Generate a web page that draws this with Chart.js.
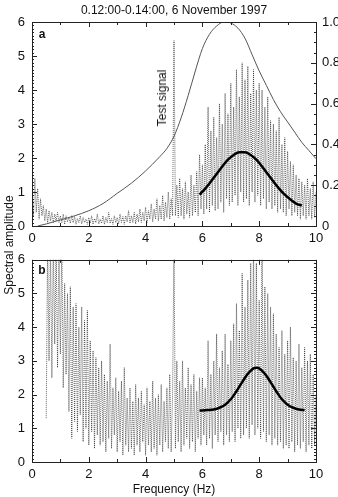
<!DOCTYPE html>
<html>
<head>
<meta charset="utf-8">
<script src="https://cdn.jsdelivr.net/npm/chart.js@4.4.1/dist/chart.umd.min.js"></script>
<style>
  body { margin: 0; background: #fff; font-family: "Liberation Sans", Arial, sans-serif; }
  #wrap { position: relative; width: 338px; height: 497px; overflow: hidden; }
  canvas { position: absolute; left: 0; }
  .txt { position: absolute; color: #111; font-size: 12px; white-space: nowrap; transform: translate(-50%, -50%); }
  .rot { transform: translate(-50%, -50%) rotate(-90deg); }
</style>
</head>
<body>
<div id="wrap">
  <canvas id="chartA" width="338" height="245" style="top:0"></canvas>
  <canvas id="chartB" width="338" height="252" style="top:245px"></canvas>
  <div class="txt" style="left:174px; top:10px">0.12:00-0.14:00, 6 November 1997</div>
  <div class="txt" style="left:42px; top:34px; font-weight:bold">a</div>
  <div class="txt" style="left:42px; top:270px; font-weight:bold">b</div>
  <div class="txt rot" style="left:162px; top:98px">Test signal</div>
  <div class="txt rot" style="left:9px; top:245px">Spectral amplitude</div>
  <div class="txt" style="left:174px; top:489px">Frequency (Hz)</div>
</div>
<script>
// spectra sampled every 0.05 Hz from 0 to 10 Hz
const noiseStep = 0.05;
const noiseA = [
  0.9, 0.3, 1.4, 0.4, 1.1, 0.2, 0.8, 0.3, 0.6, 0.15,
  0.5, 0.1, 0.45, 0.15, 0.4, 0.1, 0.35, 0.15, 0.4, 0.1,
  0.3, 0.1, 0.35, 0.05, 0.3, 0.12, 0.25, 0.08, 0.3, 0.1,
  0.28, 0.05, 0.22, 0.1, 0.3, 0.06, 0.25, 0.1, 0.2, 0.05,
  0.25, 0.08, 0.3, 0.05, 0.22, 0.1, 0.35, 0.06, 0.2, 0.08,
  0.3, 0.05, 0.25, 0.1, 0.4, 0.08, 0.22, 0.05, 0.3, 0.1,
  0.25, 0.06, 0.35, 0.1, 0.28, 0.05, 0.3, 0.12, 0.45, 0.08,
  0.3, 0.1, 0.4, 0.06, 0.35, 0.12, 0.5, 0.1, 0.4, 0.15,
  0.55, 0.1, 0.45, 0.2, 0.65, 0.12, 0.5, 0.2, 0.8, 0.15,
  0.6, 0.2, 0.9, 0.15, 0.7, 0.25, 1.0, 0.2, 0.8, 0.3,
  5.45, 0.3, 1.2, 0.25, 1.4, 0.3, 1.1, 0.2, 1.3, 0.35,
  1.0, 0.25, 1.5, 0.3, 1.2, 0.4, 1.6, 0.3, 2.1, 0.5,
  1.8, 0.35, 2.4, 0.5, 3.5, 0.4, 2.8, 0.6, 3.2, 0.45,
  2.6, 0.5, 3.6, 0.7, 3.0, 0.4, 3.9, 0.8, 3.3, 0.6,
  4.2, 0.7, 3.5, 0.9, 4.6, 0.6, 3.8, 1.0, 4.8, 0.7,
  4.3, 0.8, 4.7, 0.6, 3.9, 1.0, 4.6, 0.7, 4.0, 0.9,
  4.2, 0.6, 4.0, 0.8, 3.5, 0.5, 3.8, 0.7, 3.1, 0.5,
  3.0, 0.6, 2.8, 0.4, 3.2, 0.5, 2.4, 0.4, 2.6, 0.3,
  2.2, 0.5, 1.9, 0.3, 1.8, 0.4, 1.5, 0.3, 1.4, 0.2,
  1.3, 0.3, 1.2, 0.2, 1.4, 0.3, 1.1, 0.2, 1.3, 0.25,
  1.0
];
const noiseB = [
  null, null, null, null, null, null, null, null, null, null,
  1.3, 6.5, 3.0, 6.5, 2.5, 6.5, 3.5, 6.5, 2.8, 6.5,
  3.2, 6.5, 2.2, 5.3, 2.6, 5.0, 1.5, 5.2, 0.7, 4.6,
  1.2, 4.7, 0.9, 4.0, 1.4, 4.6, 0.6, 4.2, 1.0, 4.5,
  0.5, 3.6, 0.9, 3.3, 0.4, 3.1, 0.8, 2.8, 0.5, 3.0,
  0.6, 2.6, 0.3, 2.4, 0.7, 3.5, 0.4, 2.2, 0.8, 2.5,
  0.3, 2.1, 0.6, 2.4, 0.2, 2.8, 0.5, 1.9, 0.3, 2.2,
  0.4, 1.8, 0.2, 2.3, 0.5, 1.9, 0.3, 2.1, 0.6, 1.7,
  0.2, 2.2, 0.5, 1.8, 0.3, 2.4, 0.4, 1.9, 0.2, 2.0,
  0.5, 2.3, 0.3, 1.8, 0.6, 2.2, 0.4, 2.6, 0.3, 2.0,
  6.5, 0.4, 3.0, 0.6, 2.4, 0.3, 3.0, 0.5, 2.2, 0.7,
  2.8, 0.4, 2.3, 0.6, 2.6, 0.3, 2.1, 0.7, 2.5, 0.5,
  2.5, 0.8, 2.2, 0.5, 3.6, 0.7, 2.6, 0.4, 3.0, 0.8,
  3.8, 0.6, 2.8, 0.9, 3.3, 0.5, 3.8, 0.8, 2.9, 0.6,
  3.6, 0.9, 4.1, 0.6, 4.7, 1.0, 3.9, 0.7, 5.6, 0.8,
  4.6, 1.0, 5.4, 0.7, 5.9, 1.1, 6.5, 0.8, 5.9, 1.0,
  4.8, 0.7, 6.5, 0.9, 5.2, 0.6, 5.0, 0.8, 4.6, 0.5,
  4.4, 0.7, 3.8, 0.5, 3.4, 0.6, 3.9, 0.4, 3.2, 0.5,
  3.6, 0.4, 4.0, 0.6, 3.1, 0.3, 3.0, 0.5, 3.5, 0.4,
  2.8, 0.6, 3.4, 0.3, 3.0, 0.5, 3.2, 0.4, 2.6, 0.5,
  2.0
];

// instrument response (right axis, 0-1)
const respFreq = [0.2, 0.5, 1.0, 1.5, 2.0, 2.5, 3.0, 3.5, 4.0, 4.5, 4.75, 5.0, 5.25, 5.5, 5.75, 6.0, 6.25, 6.5, 6.75, 7.0, 7.25, 7.5, 7.75, 8.0, 8.25, 8.5, 8.75, 9.0, 9.25, 9.5, 9.75, 10.0];
const respA = [0.0, 0.01, 0.03, 0.05, 0.075, 0.11, 0.16, 0.21, 0.27, 0.34, 0.38, 0.44, 0.53, 0.64, 0.76, 0.87, 0.94, 0.98, 1.0, 0.995, 0.97, 0.92, 0.84, 0.76, 0.69, 0.62, 0.56, 0.51, 0.46, 0.41, 0.37, 0.33];

// fitted peaks
const fitFreqA = [5.9, 6.1, 6.3, 6.5, 6.7, 6.9, 7.1, 7.3, 7.5, 7.7, 7.9, 8.1, 8.3, 8.5, 8.7, 8.9, 9.1, 9.3, 9.5];
const fitA = [0.92, 1.10, 1.31, 1.53, 1.75, 1.95, 2.09, 2.17, 2.17, 2.09, 1.95, 1.75, 1.53, 1.31, 1.10, 0.92, 0.78, 0.66, 0.6];
const fitFreqB = [5.9, 6.0, 6.2, 6.4, 6.6, 6.8, 7.0, 7.2, 7.4, 7.6, 7.8, 7.9, 8.0, 8.2, 8.4, 8.6, 8.8, 9.0, 9.2, 9.4, 9.6];
const fitB = [1.53, 1.53, 1.54, 1.56, 1.61, 1.70, 1.86, 2.10, 2.37, 2.62, 2.78, 2.80, 2.78, 2.62, 2.37, 2.10, 1.86, 1.70, 1.61, 1.56, 1.54];

const freqMin = 0, freqMax = 10;

function pts(xs, ys) { return ys.map((v, i) => ({ x: xs[i], y: v })); }
function stepPts(ys) { return ys.map((v, i) => ({ x: +(i * noiseStep).toFixed(2), y: v })); }

// box frame and inward tick marks
const frameTicks = {
  id: 'frameTicks',
  afterDraw(chart) {
    const { ctx, chartArea: a, scales } = chart;
    ctx.save();
    ctx.strokeStyle = '#222';
    ctx.lineWidth = 1;
    ctx.strokeRect(Math.round(a.left) + 0.5, Math.round(a.top) + 0.5, Math.round(a.right - a.left), Math.round(a.bottom - a.top));
    ctx.beginPath();
    for (let v = 0; v <= 10; v++) {
      const px = Math.round(scales.x.getPixelForValue(v)) + 0.5;
      const len = v % 2 === 0 ? 5 : 3;
      ctx.moveTo(px, a.bottom); ctx.lineTo(px, a.bottom - len);
      ctx.moveTo(px, a.top); ctx.lineTo(px, a.top + len);
    }
    for (let k = 0; k <= 60; k++) {
      const py = Math.round(scales.y.getPixelForValue(k / 10)) + 0.5;
      const len = k % 10 === 0 ? 5 : 2;
      ctx.moveTo(a.left, py); ctx.lineTo(a.left + len, py);
      if (!scales.y2) { ctx.moveTo(a.right, py); ctx.lineTo(a.right - len, py); }
    }
    if (scales.y2) {
      for (let k = 0; k <= 20; k++) {
        const py = Math.round(scales.y2.getPixelForValue(k / 20)) + 0.5;
        const len = k % 4 === 0 ? 5 : 2;
        ctx.moveTo(a.right, py); ctx.lineTo(a.right - len, py);
      }
    }
    ctx.stroke();
    ctx.restore();
  }
};

const tickFont = { family: '"Liberation Sans", Arial, sans-serif', size: 13 };
const noGrid = { display: false, drawTicks: false, tickLength: 0 };

function xAxis(h) {
  return {
    type: 'linear', min: freqMin, max: freqMax,
    grid: noGrid, border: { display: false },
    ticks: { stepSize: 2, color: '#111', font: tickFont, padding: 5, maxRotation: 0 },
    afterFit(s) { s.height = h; }
  };
}
function yAxis() {
  return {
    type: 'linear', min: 0, max: 6,
    grid: noGrid, border: { display: false },
    ticks: { stepSize: 1, color: '#111', font: tickFont, padding: 7 },
    afterFit(s) { s.width = 32; }
  };
}

const noiseStyle = {
  borderColor: 'rgba(20,20,20,0.65)', borderWidth: 1, borderDash: [1, 1],
  pointRadius: 0, tension: 0, order: 3, yAxisID: 'y'
};
const fitStyle = {
  borderColor: '#000', borderWidth: 2.5, pointRadius: 0,
  cubicInterpolationMode: 'monotone', order: 1, yAxisID: 'y'
};

new Chart(document.getElementById('chartA'), {
  type: 'line',
  data: {
    datasets: [
      Object.assign({ data: pts(fitFreqA, fitA) }, fitStyle),
      { data: pts(respFreq, respA), borderColor: '#555', borderWidth: 1, pointRadius: 0,
        cubicInterpolationMode: 'monotone', order: 2, yAxisID: 'y2' },
      Object.assign({ data: stepPts(noiseA) }, noiseStyle)
    ]
  },
  options: {
    responsive: false, animation: false,
    layout: { padding: { top: 22 } },
    plugins: { legend: { display: false }, tooltip: { enabled: false } },
    scales: {
      x: xAxis(19),
      y: yAxis(),
      y2: {
        type: 'linear', position: 'right', min: 0, max: 1,
        grid: noGrid, border: { display: false },
        ticks: { stepSize: 0.2, color: '#111', font: tickFont, padding: 6,
          callback: v => v === 0 ? '0' : v.toFixed(1) },
        afterFit(s) { s.width = 22; }
      }
    }
  },
  plugins: [frameTicks]
});

new Chart(document.getElementById('chartB'), {
  type: 'line',
  data: {
    datasets: [
      Object.assign({ data: pts(fitFreqB, fitB) }, fitStyle),
      Object.assign({ data: stepPts(noiseB) }, noiseStyle)
    ]
  },
  options: {
    responsive: false, animation: false,
    layout: { padding: { top: 13, right: 22 } },
    plugins: { legend: { display: false }, tooltip: { enabled: false } },
    scales: { x: xAxis(35), y: yAxis() }
  },
  plugins: [frameTicks]
});
</script>
</body>
</html>
